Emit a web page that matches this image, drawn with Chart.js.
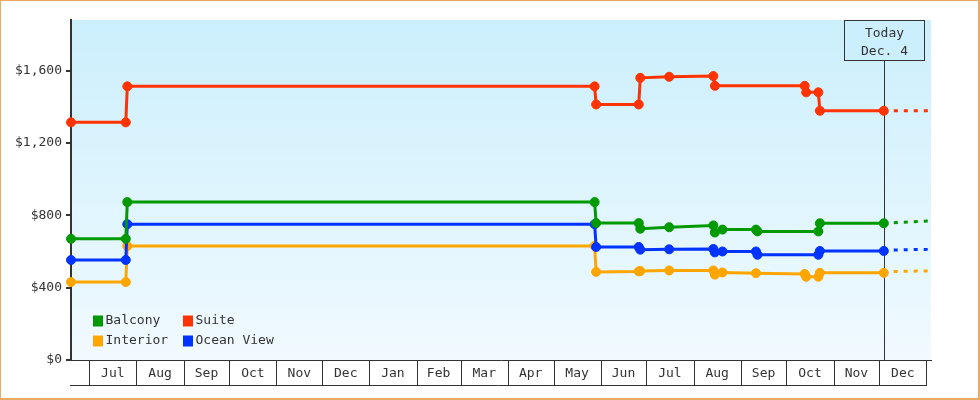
<!DOCTYPE html>
<html><head><meta charset="utf-8">
<script src="https://cdn.jsdelivr.net/npm/chart.js@4.4.1/dist/chart.umd.min.js"></script>
<style>html,body{margin:0;padding:0;background:#fff}#wrap{width:980px;height:400px;position:relative}</style>
</head><body><div id="wrap"><canvas id="c"></canvas></div>
<script>
// ---- data ----
const balconyDates = ['2015-06-19','2015-07-25','2015-07-26','2016-05-28','2016-05-29','2016-06-26','2016-06-27','2016-07-16','2016-08-14','2016-08-15','2016-08-20','2016-09-11','2016-09-12','2016-10-22','2016-10-23','2016-12-04','2017-01-02','2017-01-04'];
const balconyPrices = [670,670,873,873,757,757,726,734,744,705,721,721,711,711,756,756,769,776];

const suiteDates = ['2015-06-19','2015-07-25','2015-07-26','2016-05-28','2016-05-29','2016-06-26','2016-06-27','2016-07-16','2016-08-14','2016-08-15','2016-10-13','2016-10-14','2016-10-22','2016-10-23','2016-12-04','2017-01-04'];
const suitePrices = [1314,1314,1513,1513,1413,1413,1560,1566,1570,1516,1516,1480,1480,1378,1378,1378];

const interiorDates = ['2015-06-19','2015-07-25','2015-07-26','2016-05-28','2016-05-29','2016-06-26','2016-06-27','2016-07-16','2016-08-14','2016-08-15','2016-08-20','2016-09-11','2016-10-13','2016-10-14','2016-10-22','2016-10-23','2016-12-04','2016-12-07','2017-01-04'];
const interiorPrices = [431,431,630,630,487,490,492,495,495,472,484,480,476,460,460,482,482,489,493];

const oceanDates = ['2015-06-19','2015-07-25','2015-07-26','2016-05-28','2016-05-29','2016-06-26','2016-06-27','2016-07-16','2016-08-14','2016-08-15','2016-08-20','2016-09-11','2016-09-12','2016-10-22','2016-10-23','2016-12-04','2016-12-07','2017-01-04'];
const oceanPrices = [553,553,751,751,625,625,610,612,614,595,600,600,582,582,603,603,608,612];

const seriesNames = ['Balcony','Suite','Interior','Ocean View'];
const seriesColors = ['#009900','#ff3300','#ffa500','#0033ff'];

const monthStarts = ['2015-07-01','2015-08-01','2015-09-01','2015-10-01','2015-11-01','2015-12-01','2016-01-01','2016-02-01','2016-03-01','2016-04-01','2016-05-01','2016-06-01','2016-07-01','2016-08-01','2016-09-01','2016-10-01','2016-11-01','2016-12-01','2017-01-01'];
const monthLabels = ['Jul','Aug','Sep','Oct','Nov','Dec','Jan','Feb','Mar','Apr','May','Jun','Jul','Aug','Sep','Oct','Nov','Dec'];
const yTicks = [0,400,800,1200,1600];
const yMax = 1880;
const xStart = '2015-06-19', xEnd = '2017-01-04';
const todayDate = '2016-12-04';
const todayText = ['Today','Dec. 4'];

// ---- helpers ----
const day = s => Date.parse(s + 'T00:00:00Z') / 864e5;
const todayDay = day(todayDate);
const FONT = '13px "DejaVu Sans Mono", "Liberation Mono", monospace';
const INK = '#333333';

function mk(name, dates, prices) {
  const i = seriesNames.indexOf(name);
  const col = seriesColors[i];
  return {
    label: name,
    data: dates.map((d, k) => ({x: day(d), y: prices[k]})),
    borderColor: col, backgroundColor: col,
    pointBackgroundColor: col, pointBorderColor: col,
    borderWidth: 3, tension: 0, fill: false, clip: false,
    borderCapStyle: 'butt',
    pointRadius: ctx => (ctx.raw && ctx.raw.x > todayDay) ? 0 : 4.5,
    pointBorderWidth: 1,
    segment: {
      borderDash: ctx => {
        const ds = ctx.chart.data.datasets[ctx.datasetIndex];
        return ds.data[ctx.p0DataIndex].x >= todayDay ? [4, 6] : undefined;
      }
    }
  };
}

const decor = {
  id: 'decor',
  beforeDraw(chart) {
    const {ctx, chartArea: a} = chart;
    const g = ctx.createLinearGradient(0, a.top, 0, a.bottom);
    g.addColorStop(0, '#cbeffc');
    g.addColorStop(1, '#f1faff');
    ctx.save();
    ctx.fillStyle = g;
    ctx.fillRect(a.left, a.top, a.right - a.left, a.bottom - a.top);
    ctx.restore();
  },
  beforeDatasetsDraw(chart) {
    const {ctx, chartArea: a, scales: {x}} = chart;
    ctx.save();
    // month dividers
    ctx.strokeStyle = INK; ctx.lineWidth = 1;
    ctx.beginPath();
    let lastPx = a.left;
    monthStarts.forEach(m => {
      const px = Math.round(x.getPixelForValue(day(m))) + 0.5;
      ctx.moveTo(px, a.bottom); ctx.lineTo(px, a.bottom + 25);
      lastPx = px;
    });
    ctx.moveTo(a.left - 1, a.bottom + 25.5); ctx.lineTo(lastPx + 0.5, a.bottom + 25.5);
    ctx.stroke();
    // today line + box
    const tx = Math.round(x.getPixelForValue(todayDay)) + 0.5;
    const bw = 80, bh = 40;
    ctx.beginPath();
    ctx.moveTo(tx, a.top + bh); ctx.lineTo(tx, a.bottom);
    ctx.stroke();
    ctx.fillStyle = '#cbeffc';
    ctx.fillRect(tx - bw / 2, a.top + 0.5, bw, bh);
    ctx.strokeRect(tx - bw / 2, a.top + 0.5, bw, bh);
    ctx.fillStyle = INK; ctx.font = FONT;
    ctx.textAlign = 'center'; ctx.textBaseline = 'alphabetic';
    ctx.fillText(todayText[0], tx, a.top + 16.5);
    ctx.fillText(todayText[1], tx, a.top + 35);
    ctx.restore();
  },
  afterDraw(chart) {
    const {ctx, chartArea: a} = chart;
    ctx.save();
    // legend (2x2)
    const order = [['Balcony','Suite'],['Interior','Ocean View']];
    ctx.font = FONT; ctx.textAlign = 'left'; ctx.textBaseline = 'middle';
    order.forEach((row, r) => {
      row.forEach((name, c) => {
        const bx = a.left + 22 + c * 90;
        const cy = a.bottom - 39.5 + r * 20;
        ctx.fillStyle = seriesColors[seriesNames.indexOf(name)];
        ctx.fillRect(bx, cy - 5, 10, 11);
        ctx.fillStyle = INK;
        ctx.fillText(name, bx + 12.5, cy + 0.5);
      });
    });
    // outer border
    ctx.fillStyle = '#eaaa64';
    ctx.fillRect(0, 0, 980, 1);
    ctx.fillRect(0, 0, 1, 400);
    ctx.fillRect(978, 0, 2, 400);
    ctx.fillRect(0, 398, 980, 2);
    ctx.restore();
  }
};

new Chart(document.getElementById('c'), {
  type: 'line',
  data: {
    datasets: [
      mk('Balcony', balconyDates, balconyPrices),
      mk('Ocean View', oceanDates, oceanPrices),
      mk('Interior', interiorDates, interiorPrices),
      mk('Suite', suiteDates, suitePrices)
    ]
  },
  options: {
    responsive: true, maintainAspectRatio: false, animation: false,
    devicePixelRatio: 1,
    layout: {padding: {top: 20, right: 49, bottom: 0, left: 0}},
    plugins: {legend: {display: false}, tooltip: {enabled: false}},
    events: [],
    scales: {
      x: {
        type: 'linear', min: day(xStart), max: day(xEnd),
        afterBuildTicks: s => {
          s.ticks = monthLabels.map((l, i) => ({value: (day(monthStarts[i]) + day(monthStarts[i + 1])) / 2}));
        },
        afterFit: s => { s.height = 40; },
        grid: {display: false, drawTicks: false},
        border: {display: true, color: INK, width: 1},
        ticks: {
          autoSkip: false, maxRotation: 0, minRotation: 0, padding: 6,
          color: INK, font: {family: '"DejaVu Sans Mono", monospace', size: 13},
          callback: (v, i) => monthLabels[i]
        }
      },
      y: {
        min: 0, max: yMax,
        afterBuildTicks: s => { s.ticks = yTicks.map(v => ({value: v})); },
        afterFit: s => { s.width = 71; },
        grid: {drawOnChartArea: false, drawTicks: true, tickLength: 5, color: INK, lineWidth: 2},
        border: {display: true, color: INK, width: 2},
        ticks: {
          padding: 4, color: INK, font: {family: '"DejaVu Sans Mono", monospace', size: 13},
          callback: v => '$' + v.toLocaleString('en-US')
        }
      }
    }
  },
  plugins: [decor]
});
</script>
</body></html>
